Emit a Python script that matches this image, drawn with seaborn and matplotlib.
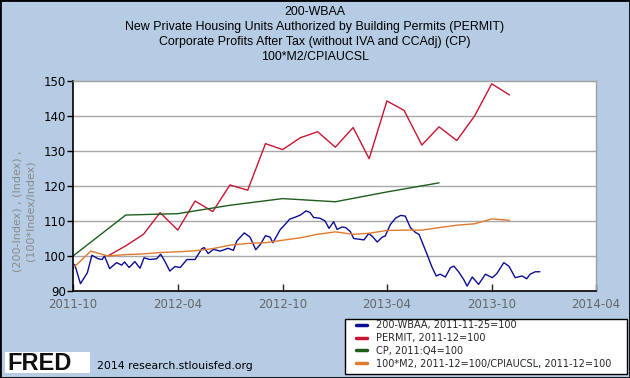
import matplotlib
matplotlib.use('Agg')

import matplotlib.pyplot as plt
import matplotlib.dates as mdates
from matplotlib.lines import Line2D
from matplotlib.patches import Rectangle
import pandas as pd
import seaborn as sns

# PERMIT, monthly, 2011-12=100
permit_dates = pd.date_range('2011-12-01', '2013-11-01', freq='MS')
permit_vals = [100.0, 102.9, 106.2, 112.4, 107.4, 115.7, 112.7, 120.3, 118.8,
               132.1, 130.4, 133.8, 135.5, 131.1, 136.7, 127.8, 144.3, 141.6,
               131.7, 136.9, 133.0, 140.0, 149.2, 146.0]

# CP, quarterly, 2011:Q4=100
cp_dates = pd.date_range('2011-10-01', '2013-07-01', freq='QS')
cp_vals = [100.0, 111.7, 112.1, 114.5, 116.4, 115.5, 118.3, 120.9]

# 100*M2/CPIAUCSL, monthly, 2011-12=100
m2_dates = pd.date_range('2011-10-01', '2013-11-01', freq='MS')
m2_vals = [96.5, 101.4, 100.0, 100.4, 100.6, 101.0, 101.2, 101.5, 102.1, 103.1,
           103.6, 103.8, 104.5, 105.2, 106.2, 106.9, 106.2, 106.5, 107.3, 107.4,
           107.4, 108.1, 108.8, 109.2, 110.6, 110.2]

# 200-WBAA, 2011-11-25=100
wbaa_dates = ['2011-10-04', '2011-10-14', '2011-10-26', '2011-11-03', '2011-11-14',
              '2011-11-21', '2011-11-25', '2011-12-04', '2011-12-16', '2011-12-25',
              '2011-12-30', '2012-01-07', '2012-01-17', '2012-01-26', '2012-02-02',
              '2012-02-12', '2012-02-24', '2012-03-02', '2012-03-09', '2012-03-18',
              '2012-03-27', '2012-04-05', '2012-04-17', '2012-05-01', '2012-05-13',
              '2012-05-17', '2012-05-24', '2012-06-02', '2012-06-14', '2012-06-28',
              '2012-07-07', '2012-07-13', '2012-07-26', '2012-08-05', '2012-08-15',
              '2012-08-23', '2012-09-01', '2012-09-09', '2012-09-14', '2012-09-27',
              '2012-10-03', '2012-10-13', '2012-10-23', '2012-11-01', '2012-11-11',
              '2012-11-18', '2012-11-24', '2012-12-05', '2012-12-14', '2012-12-21',
              '2012-12-29', '2013-01-04', '2013-01-13', '2013-01-19', '2013-01-27',
              '2013-02-02', '2013-02-11', '2013-02-20', '2013-02-28', '2013-03-06',
              '2013-03-15', '2013-03-24', '2013-03-29', '2013-04-07', '2013-04-16',
              '2013-04-25', '2013-05-03', '2013-05-12', '2013-05-21', '2013-05-27',
              '2013-06-10', '2013-06-19', '2013-06-26', '2013-07-03', '2013-07-12',
              '2013-07-21', '2013-07-27', '2013-08-04', '2013-08-13', '2013-08-19',
              '2013-08-28', '2013-09-08', '2013-09-20', '2013-10-02', '2013-10-10',
              '2013-10-22', '2013-10-31', '2013-11-11', '2013-11-23', '2013-12-01',
              '2013-12-07', '2013-12-16', '2013-12-24']
wbaa_vals = [97.6, 92.1, 95.2, 100.2, 99.2, 99.0, 100.0, 96.4, 98.1, 97.4,
             98.3, 96.7, 98.4, 96.5, 99.5, 99.0, 99.2, 100.5, 98.6, 95.7,
             97.0, 96.7, 99.0, 99.0, 102.1, 102.4, 100.7, 101.9, 101.4, 102.2,
             101.6, 104.3, 106.6, 105.4, 101.8, 103.3, 105.8, 105.4, 103.8, 107.6,
             108.6, 110.5, 111.1, 111.7, 112.9, 112.4, 111.0, 110.8, 110.0, 107.9,
             109.8, 107.6, 108.3, 108.1, 107.0, 105.0, 104.8, 104.6, 106.4, 105.7,
             104.0, 105.4, 105.7, 109.0, 110.8, 111.6, 111.4, 108.1, 106.7, 106.2,
             100.5, 96.7, 94.3, 94.8, 94.0, 96.7, 97.1, 95.5, 93.3, 91.4,
             94.0, 91.9, 94.8, 93.8, 95.0, 98.1, 97.1, 93.8, 94.3, 93.5,
             94.8, 95.5, 95.5]

labels = ['200-WBAA, 2011-11-25=100', 'PERMIT, 2011-12=100',
          'CP, 2011:Q4=100', '100*M2, 2011-12=100/CPIAUCSL, 2011-12=100']
colors = ['#0c0c96', '#c81430', '#1d5e1d', '#e07a2c']

title_lines = ['200-WBAA',
               'New Private Housing Units Authorized by Building Permits (PERMIT)',
               'Corporate Profits After Tax (without IVA and CCAdj) (CP)',
               '100*M2/CPIAUCSL']

sns.set_style('white')
plt.rcParams['font.family'] = ['DejaVu Sans']

W, H = 630, 378
fig = plt.figure(figsize=(6.3, 3.78), dpi=100, facecolor='#b5cce4')
ax = fig.add_axes([73 / W, 1 - 291 / H, 523 / W, 210 / H])
ax.set_facecolor('white')

series = [(wbaa_dates, wbaa_vals), (permit_dates, permit_vals),
          (cp_dates, cp_vals), (m2_dates, m2_vals)]
for (d, v), c in zip(series, colors):
    df = pd.DataFrame({'date': pd.to_datetime(d), 'value': v})
    sns.lineplot(data=df, x='date', y='value', ax=ax, color=c, lw=1.0,
                 legend=False)

ax.set_xlim(pd.Timestamp('2011-10-01'), pd.Timestamp('2014-04-01'))
ax.set_ylim(90, 150)
ax.set_yticks(range(90, 151, 10))
ax.set_xticks(pd.date_range('2011-10-01', '2014-04-01', freq='6MS'))
ax.xaxis.set_major_formatter(mdates.DateFormatter('%Y-%m'))
for y in range(100, 150, 10):
    ax.axhline(y, color='#a8a8a8', lw=1.0, zorder=0)

ax.set_xlabel('')
ax.set_ylabel('')
ax.tick_params(axis='y', direction='out', length=4, width=1, pad=1,
               labelsize=8.5, colors='black', left=True)
ax.tick_params(axis='x', direction='in', length=5, width=1, pad=5,
               labelsize=8.5, labelcolor='#666666', bottom=True)
for side in ['left', 'bottom']:
    ax.spines[side].set_color('black')
    ax.spines[side].set_linewidth(1.2)
for side in ['top', 'right']:
    ax.spines[side].set_color('#a0a0a0')
    ax.spines[side].set_linewidth(1.0)

fig.text(0.5, 1 - 6 / H, '\n'.join(title_lines), ha='center', va='top',
         fontsize=8.9, linespacing=1.33, color='black',
         family=['Liberation Sans', 'DejaVu Sans'])

fig.text(24 / W, 1 - 211 / H, '(200-Index) , (Index) ,\n(100*Index/Index)',
         rotation=90, ha='center', va='center', fontsize=8, color='#8a8a8a',
         linespacing=1.3)

# legend box drawn separately so the entries can sit inset from its edge
fig.patches.append(Rectangle((345 / W, 1 - 374 / H), 282 / W, 55 / H,
                             transform=fig.transFigure, facecolor='white',
                             edgecolor='black', lw=1.0, zorder=1))
handles = [Line2D([0], [0], color=c, lw=2.5) for c in colors]
leg = fig.legend(handles, labels, loc='upper left',
                 bbox_to_anchor=(356 / W, 1 - 320 / H), fontsize=7.0,
                 frameon=False, handlelength=1.1, handletextpad=1.0,
                 labelspacing=0.3, borderpad=0.0, borderaxespad=0)
leg.set_zorder(2)

fig.patches.append(Rectangle((5 / W, 1 - 373 / H), 85 / W, 21 / H,
                             transform=fig.transFigure, facecolor='white',
                             edgecolor='none', zorder=1))
fig.text(7 / W, 1 - 363 / H, 'FRED', fontsize=17, fontweight='bold',
         ha='left', va='center', color='#111111', zorder=2,
         family=['Liberation Sans', 'DejaVu Sans'])
fig.text(97 / W, 1 - 366 / H, '2014 research.stlouisfed.org', fontsize=7.8,
         ha='left', va='center', color='black')

fig.patches.append(Rectangle((0, 0), 1, 1, transform=fig.transFigure,
                             fill=False, edgecolor='black', lw=2))

fig.savefig('out.png', dpi=100, facecolor=fig.get_facecolor())
